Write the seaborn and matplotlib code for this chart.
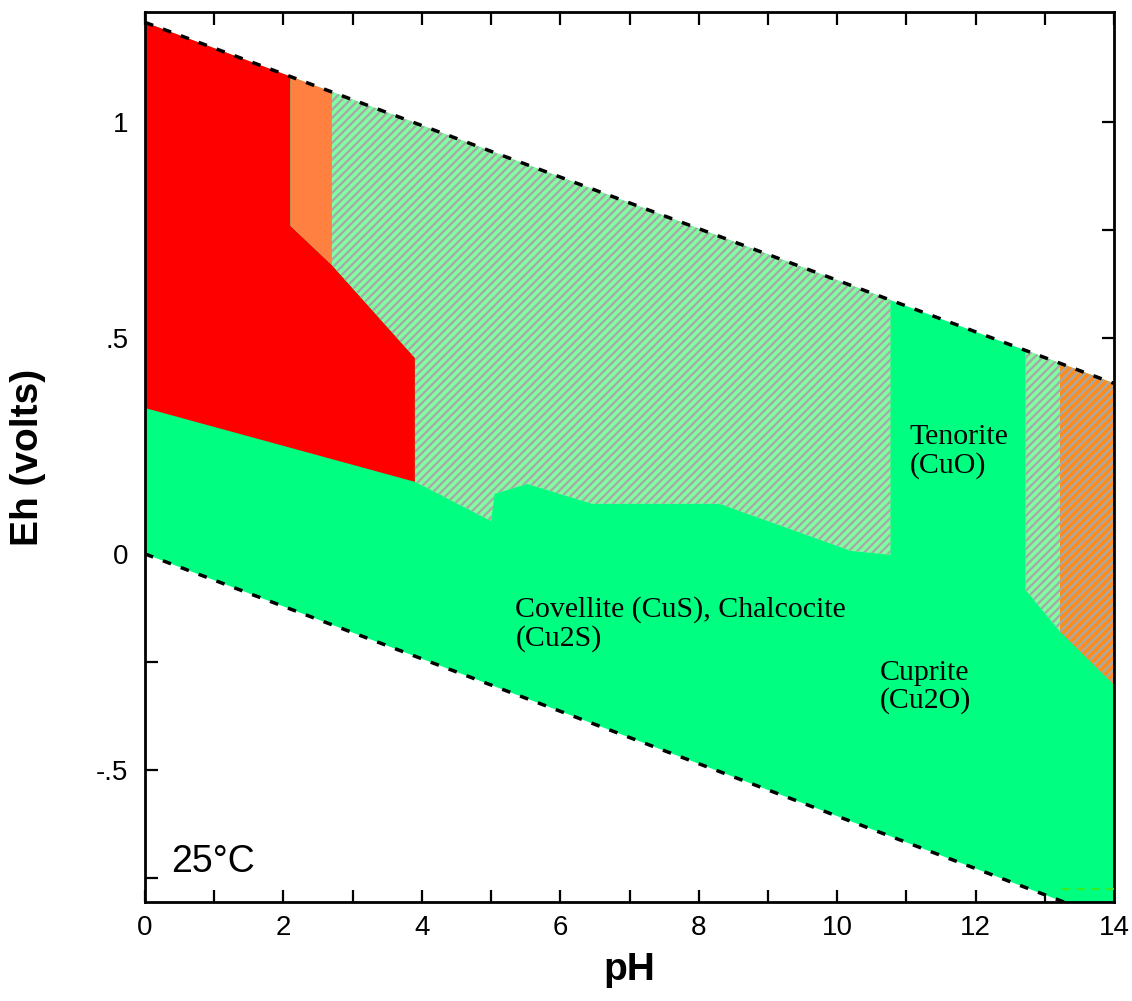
import matplotlib
matplotlib.use("Agg")
import matplotlib.pyplot as plt
import seaborn as sns
import pandas as pd
from matplotlib.ticker import FixedLocator, FixedFormatter

# ---------------- data ----------------
# water stability limits
upper_water_ph = [0.0, 14.0]
upper_water_eh = [1.231, 0.395]
lower_water_ph = [0.0, 14.0]
lower_water_eh = [0.0, -0.85]

# whole stability field (solid green)
green_ph = [0.0, 14.0, 14.0, 0.0]
green_eh = [1.231, 0.395, -0.85, 0.0]

# Cu2+ aqueous field (red)
red_ph = [0.0, 2.1, 2.1, 2.7, 3.9, 3.9, 0.0]
red_eh = [1.231, 1.106, 0.76, 0.669, 0.454, 0.167, 0.338]

# orange strip
orange_ph = [2.1, 2.7, 2.7, 2.1]
orange_eh = [1.106, 1.07, 0.669, 0.76]

# big hatched field (green / grey)
hatch1_ph = [2.7, 10.77, 10.77, 10.2, 8.3, 6.46, 5.52, 5.05, 5.0, 3.9, 3.9, 2.7]
hatch1_eh = [1.07, 0.588, -0.002, 0.007, 0.116, 0.116, 0.162, 0.139, 0.076, 0.167, 0.454, 0.669]

# right hatched green strip
hatch2_ph = [12.72, 13.22, 13.22, 12.72]
hatch2_eh = [0.472, 0.442, -0.18, -0.083]

# right hatched orange strip
hatch3_ph = [13.22, 14.0, 14.0, 13.22]
hatch3_eh = [0.442, 0.395, -0.303, -0.18]

# faint green dashed line bottom right
gline_ph = [13.25, 14.0]
gline_eh = [-0.775, -0.775]

x_major = [0, 2, 4, 6, 8, 10, 12, 14]
x_minor = [1, 3, 5, 7, 9, 11, 13]
y_major = [-0.5, 0.0, 0.5, 1.0]
y_major_labels = ["-.5", "0", ".5", "1"]
y_minor = [-0.75, -0.25, 0.25, 0.75]

labels = [
    (5.35, -0.098, "Covellite (CuS), Chalcocite\n(Cu2S)"),
    (11.05, 0.30, "Tenorite\n(CuO)"),
    (10.62, -0.245, "Cuprite\n(Cu2O)"),
]

# ---------------- drawing ----------------
sns.set_theme(style="ticks")
plt.rcParams["font.family"] = ["Liberation Sans", "DejaVu Sans"]
plt.rcParams["hatch.linewidth"] = 1.7
for k in ["text.color", "axes.labelcolor", "xtick.color", "ytick.color",
          "axes.edgecolor"]:
    plt.rcParams[k] = "black"

fig = plt.figure(figsize=(11.32, 10.01), dpi=100)
ax = fig.add_axes([0.1281, 0.0989, 0.8560, 0.8891])

ax.fill(green_ph, green_eh, facecolor="#00ff80", edgecolor="none", zorder=1)
ax.fill(red_ph, red_eh, facecolor="#ff0000", edgecolor="none", zorder=2)
ax.fill(orange_ph, orange_eh, facecolor="#ff8040", edgecolor="none", zorder=2)
ax.fill(hatch1_ph, hatch1_eh, facecolor="#80ffa0", edgecolor="#a8a8a8",
        hatch="////", linewidth=0, zorder=2)
ax.fill(hatch2_ph, hatch2_eh, facecolor="#80ffa0", edgecolor="#a8a8a8",
        hatch="////", linewidth=0, zorder=2)
ax.fill(hatch3_ph, hatch3_eh, facecolor="#ff8c1a", edgecolor="#a8a8a8",
        hatch="////", linewidth=0, zorder=2)

df_up = pd.DataFrame({"pH": upper_water_ph, "Eh": upper_water_eh})
df_lo = pd.DataFrame({"pH": lower_water_ph, "Eh": lower_water_eh})
df_g = pd.DataFrame({"pH": gline_ph, "Eh": gline_eh})
sns.lineplot(data=df_up, x="pH", y="Eh", ax=ax, color="black", lw=2.5,
             linestyle=(0, (2.5, 3)), zorder=4)
sns.lineplot(data=df_lo, x="pH", y="Eh", ax=ax, color="black", lw=2.5,
             linestyle=(0, (2.5, 3)), zorder=4)
sns.lineplot(data=df_g, x="pH", y="Eh", ax=ax, color="#33ee22", lw=1.5,
             linestyle=(0, (4, 3)), zorder=4)

for x, y, t in labels:
    ax.text(x, y, t, ha="left", va="top", fontsize=21.5,
            family=["Liberation Serif", "DejaVu Serif"], linespacing=1.08,
            color="black", zorder=5)

ax.text(0.027, 0.034, "25°C", transform=ax.transAxes, fontsize=27,
        ha="left", va="baseline", color="black", zorder=5)

ax.set_xlim(0, 14)
ax.set_ylim(-0.806, 1.255)

ax.xaxis.set_major_locator(FixedLocator(x_major))
ax.xaxis.set_minor_locator(FixedLocator(x_minor))
ax.yaxis.set_major_locator(FixedLocator(y_major))
ax.yaxis.set_major_formatter(FixedFormatter(y_major_labels))
ax.yaxis.set_minor_locator(FixedLocator(y_minor))

ax.tick_params(which="both", direction="in", top=True, right=True,
               length=9, width=1.6, color="black", labelcolor="black")
ax.tick_params(axis="x", which="major", labelsize=20, pad=9)
ax.tick_params(axis="y", which="major", labelsize=20, pad=12)

for s in ax.spines.values():
    s.set_linewidth(2)
    s.set_color("black")

ax.set_xlabel("pH", fontsize=28, fontweight="bold", labelpad=8, color="black")
ax.set_ylabel("Eh (volts)", fontsize=28, fontweight="bold", labelpad=36,
              color="black")

fig.savefig("out.png", dpi=100)
